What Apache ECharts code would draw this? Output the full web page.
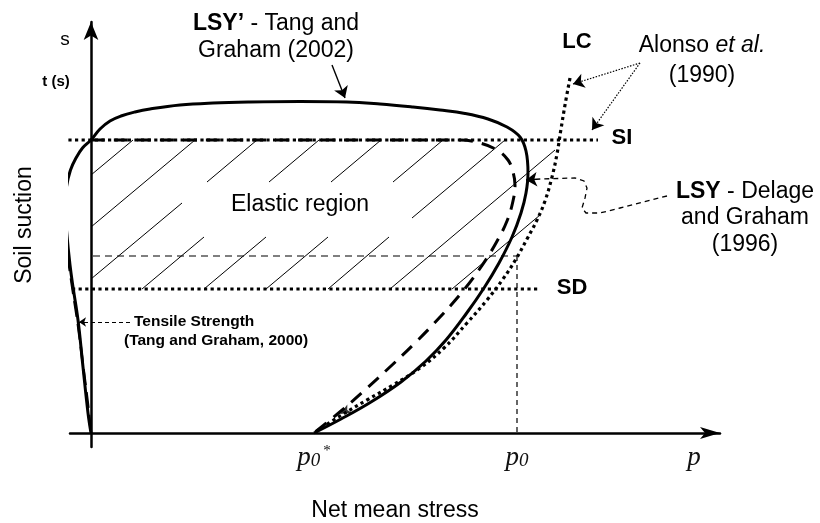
<!DOCTYPE html>
<html>
<head>
<meta charset="utf-8">
<script src="https://cdn.jsdelivr.net/npm/echarts@6/dist/echarts.min.js"></script>
<style>
  html, body { margin: 0; padding: 0; background: #fff; }
  #chart { width: 820px; height: 523px; }
</style>
</head>
<body>
<div id="chart"></div>
<script>
// Yield loci of an unsaturated soil in the net mean stress (p) – suction (s) plane.
// All coordinates are in diagram units: p along x, s along y.

// LSY' yield curve (Tang and Graham, 2002)
const lsyPrime = [
  [0, 0], [-0.3, 2.0], [-0.8, 6.6], [-1.3, 11.3], [-1.8, 14.6], [-2.1, 16.8], [-2.45, 20.3],
  [-2.6, 22.6], [-2.45, 24.6], [-2.05, 26.3], [-1.5, 27.5], [-0.85, 28.5], [0, 29.3],
  [0.9, 30.4], [1.9, 31.2], [3.0, 31.7], [4.4, 32.1], [5.9, 32.4], [8.9, 32.8], [12.2, 33.0],
  [15.9, 33.1], [20.9, 33.15], [25.6, 33.1], [28.9, 32.9], [32.2, 32.6], [34.9, 32.3], [37.4, 31.95],
  [39.7, 31.4], [41.6, 30.6], [42.9, 29.6], [43.5, 28.2], [43.7, 26.0], [43.5, 24.0],
  [43.0, 22.0], [42.1, 19.6], [40.8, 17.0], [39.3, 14.5], [37.5, 11.9], [35.5, 9.3],
  [33.5, 7.2], [31.0, 5.1], [28.0, 3.1], [25.0, 1.4], [22.3, 0]
];

// LSY yield curve (Delage and Graham, 1996)
const lsyDelage = [
  [0, 29.3], [20.9, 29.3], [36.9, 29.3], [38.9, 29.0], [40.6, 28.3], [41.7, 27.3], [42.2, 26.1],
  [42.4, 24.8], [42.2, 23.2], [41.6, 21.2], [40.5, 19.0], [39.0, 16.6], [37.2, 14.2],
  [35.0, 11.7], [32.5, 9.1], [30.0, 6.7], [27.5, 4.4], [25.0, 2.2], [22.3, 0]
];

// LC curve (Alonso et al., 1990)
const lcCurve = [
  [47.9, 35.5], [47.4, 32.8], [47.0, 30.4], [46.6, 27.9], [46.1, 25.6], [45.4, 23.2],
  [44.6, 21.3], [43.6, 19.4], [42.5, 17.4], [41.2, 15.4], [39.6, 13.3], [37.6, 11.0],
  [35.3, 8.5], [32.9, 6.5], [30.2, 4.8], [27.6, 3.3], [24.9, 1.7], [22.3, 0]
];

// Tensile strength t(s)
const tensileCurve = [
  [-3.4, 33.8], [-3.4, 28.3], [-3.2, 25.8], [-2.9, 22.8], [-2.6, 19.8], [-2.2, 16.8],
  [-1.8, 14.1], [-1.3, 10.8], [-0.8, 6.8], [-0.3, 2.8], [0, 0]
];

// Suction-increase (SI) and suction-decrease (SD) yield lines
const siLine = [[-4.9, 29.3], [50.7, 29.3]];
const sdLine = [[-1.9, 14.4], [44.9, 14.4]];

// Current state on LC and its preconsolidation stress p0
const p0 = 42.6;
const p0Suction = 17.7;
const suctionGuide = [[0.2, p0Suction], [p0, p0Suction]];
const p0Guide = [[p0, p0Suction], [p0, 0]];

// Hatching of the elastic region, one segment per row: [p1, s1, p2, s2]
const hatchSegments = [
  [0, 25.8, 4.2, 29.3],
  [0, 20.6, 10.4, 29.3],
  [0, 15.4, 9.1, 23.0], [11.6, 25.1, 16.6, 29.3],
  [5.1, 14.4, 11.3, 19.6], [17.8, 25.1, 22.8, 29.3],
  [11.3, 14.4, 17.5, 19.6], [24.0, 25.1, 29.0, 29.3],
  [17.5, 14.4, 23.7, 19.6], [30.2, 25.1, 35.2, 29.3],
  [23.7, 14.4, 29.8, 19.6], [32.1, 21.5, 41.4, 29.3],
  [29.9, 14.4, 46.4, 28.3],
  [36.1, 14.4, 44.9, 21.8]
];

// Annotation leaders ending in an arrow head (last point = arrow tip)
const leaderLsyPrime = [[24.1, 36.8], [25.4, 33.5]];
const leaderAlonsoLc = [[54.9, 37.0], [48.2, 34.9]];
const leaderAlonsoSi = [[54.9, 37.0], [50.1, 30.3]];
const leaderDelage = [
  [57.6, 23.7], [52.9, 22.5], [50.9, 22.0], [49.5, 22.0], [49.1, 22.5], [49.4, 23.5],
  [49.6, 24.5], [49.3, 25.2], [48.4, 25.5], [44.9, 25.4]
];
const leaderDelageTip = [[44.9, 25.4], [43.5, 25.3]];
const leaderTensile = [[3.9, 11.1], [-1.2, 11.1]];

// Direction mark on the curves near p0*
const flowMarks = [[24.9, 1.9]];

// p-axis tick labels
const pTickValues = [22.3, p0, 60.3];
const pTickLabels = ['{p|p}{sub|0}{star|*}', '{p|p}{sub|0}', '{p|p}'];

const SANS = '"Liberation Sans", Arial, sans-serif';
const SERIF = '"Liberation Serif", "Times New Roman", serif';
const INK = '#000';

function curve(data, lineType, width, smooth) {
  return {
    type: 'line', data: data, clip: false, silent: true, symbol: 'none',
    smooth: smooth || 0, z: 3,
    lineStyle: { color: INK, width: width, type: lineType }
  };
}

function arrowLine(coords, lineType, width, size) {
  return { coords: coords, symbolSize: size, lineStyle: { type: lineType, width: width } };
}

const chart = echarts.init(document.getElementById('chart'), null, { renderer: 'canvas' });

chart.setOption({
  animation: false,
  backgroundColor: '#fff',
  grid: { left: 70, right: 100, top: 22, bottom: 76, outerBoundsMode: 'none' },
  xAxis: {
    type: 'value', min: -2.1, max: 62.9,
    splitLine: { show: false }, axisTick: { show: false },
    axisLine: {
      onZero: true, symbol: ['none', 'arrow'], symbolSize: [9, 20],
      lineStyle: { color: INK, width: 2.5 }
    },
    axisLabel: {
      customValues: pTickValues, margin: -3, color: INK,
      formatter: function (v) {
        const i = pTickValues.findIndex(function (t) { return Math.abs(t - v) < 1e-6; });
        return i >= 0 ? pTickLabels[i] : '';
      },
      rich: {
        p: { fontFamily: SERIF, fontStyle: 'italic', fontSize: 27, color: '#111', verticalAlign: 'bottom' },
        sub: { fontFamily: SERIF, fontStyle: 'italic', fontSize: 19, color: '#111', verticalAlign: 'bottom', padding: [0, 0, 1, 0] },
        star: { fontFamily: SERIF, fontSize: 15, color: '#111', verticalAlign: 'top', padding: [0, 0, 0, 3] }
      }
    },
    name: 'Net mean stress', nameLocation: 'middle', nameGap: 52,
    nameTextStyle: { fontFamily: SANS, fontSize: 23, color: INK }
  },
  yAxis: {
    type: 'value', min: -1.4, max: 41.1,
    splitLine: { show: false }, axisTick: { show: false }, axisLabel: { show: false },
    axisLine: {
      onZero: true, symbol: ['none', 'arrow'], symbolSize: [11, 18],
      lineStyle: { color: INK, width: 2.5 }
    }
  },
  series: [
    {
      type: 'lines', coordinateSystem: 'cartesian2d', silent: true, z: 1,
      data: hatchSegments.map(function (h) { return { coords: [[h[0], h[1]], [h[2], h[3]]] }; }),
      lineStyle: { color: INK, width: 1, opacity: 1 }
    },
    curve(suctionGuide, [7, 5], 1.2),
    curve(p0Guide, [5, 4], 1.2),
    curve(siLine, [3.2, 3.4], 3.2),
    curve(sdLine, [3.2, 3.4], 3.2),
    curve(lcCurve, [3.2, 3.4], 3.2, 0.4),
    curve(lsyPrime, 'solid', 3, 0.4),
    curve(lsyDelage, [14, 9], 3, 0.4),
    curve(tensileCurve, [16, 7], 2.6, 0.3),
    {
      type: 'lines', coordinateSystem: 'cartesian2d', polyline: true, silent: true, z: 4,
      data: [{ coords: leaderDelage }],
      lineStyle: { color: INK, type: [5, 4], width: 1.3, opacity: 1 }
    },
    {
      type: 'lines', coordinateSystem: 'cartesian2d', silent: true, z: 4,
      symbol: ['none', 'arrow'], symbolSize: 11,
      data: [
        arrowLine(leaderLsyPrime, 'solid', 1.4, 11),
        arrowLine(leaderAlonsoLc, [1.5, 1.5], 1.2, 11),
        arrowLine(leaderAlonsoSi, [1.5, 1.5], 1.2, 11),
        arrowLine(leaderDelageTip, 'solid', 1.3, 11),
        arrowLine(leaderTensile, [4, 3], 1.1, 7)
      ],
      lineStyle: { color: INK, opacity: 1 }
    },
    {
      type: 'scatter', data: flowMarks, clip: false, silent: true, z: 5,
      symbol: 'arrow', symbolSize: [7, 11], symbolRotate: 119,
      itemStyle: { color: INK }
    }
  ],
  graphic: [
    { type: 'text', x: 65, y: 40, style: { text: 's', font: '19px ' + SANS, fill: INK, textAlign: 'center', textVerticalAlign: 'middle' } },
    { type: 'text', x: 56, y: 82, style: { text: 't (s)', font: 'bold 15px ' + SANS, fill: INK, textAlign: 'center', textVerticalAlign: 'middle' } },
    { type: 'text', x: 276, y: 37, style: {
        text: '{b|LSY\u2019} - Tang and\nGraham (2002)', font: '23px ' + SANS, lineHeight: 27,
        fill: INK, textAlign: 'center', textVerticalAlign: 'middle',
        rich: { b: { fontWeight: 'bold', fontSize: 23, fontFamily: SANS } } } },
    { type: 'text', x: 577, y: 42, style: { text: 'LC', font: 'bold 22px ' + SANS, fill: INK, textAlign: 'center', textVerticalAlign: 'middle' } },
    { type: 'text', x: 702, y: 61, style: {
        text: 'Alonso {i|et al.}\n(1990)', font: '23px ' + SANS, lineHeight: 30,
        fill: INK, textAlign: 'center', textVerticalAlign: 'middle',
        rich: { i: { fontStyle: 'italic', fontSize: 23, fontFamily: SANS } } } },
    { type: 'text', x: 622, y: 138, style: { text: 'SI', font: 'bold 22px ' + SANS, fill: INK, textAlign: 'center', textVerticalAlign: 'middle' } },
    { type: 'text', x: 745, y: 218, style: {
        text: '{b|LSY} - Delage\nand Graham\n(1996)', font: '23px ' + SANS, lineHeight: 26.5,
        fill: INK, textAlign: 'center', textVerticalAlign: 'middle',
        rich: { b: { fontWeight: 'bold', fontSize: 23, fontFamily: SANS } } } },
    { type: 'text', x: 572, y: 288, style: { text: 'SD', font: 'bold 22px ' + SANS, fill: INK, textAlign: 'center', textVerticalAlign: 'middle' } },
    { type: 'text', x: 300, y: 205, style: { text: 'Elastic region', font: '23px ' + SANS, fill: INK, textAlign: 'center', textVerticalAlign: 'middle' } },
    { type: 'text', x: 25, y: 225, rotation: Math.PI / 2, style: { text: 'Soil suction', font: '23px ' + SANS, fill: INK, textAlign: 'center', textVerticalAlign: 'middle' } },
    { type: 'text', x: 134, y: 322, style: { text: 'Tensile Strength', font: 'bold 15.5px ' + SANS, fill: INK, textAlign: 'left', textVerticalAlign: 'middle' } },
    { type: 'text', x: 124, y: 341, style: { text: '(Tang and Graham, 2000)', font: 'bold 15.5px ' + SANS, fill: INK, textAlign: 'left', textVerticalAlign: 'middle' } }
  ]
});
</script>
</body>
</html>
